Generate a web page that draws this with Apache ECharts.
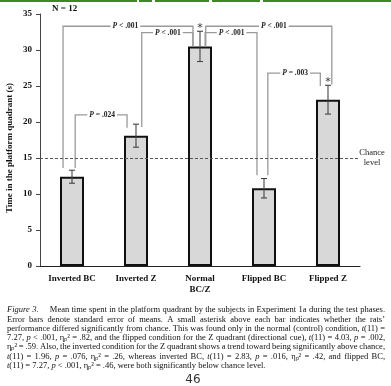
<!DOCTYPE html>
<html><head><meta charset="utf-8">
<script src="https://cdn.jsdelivr.net/npm/echarts@6/dist/echarts.min.js"></script>
<style>html,body{margin:0;padding:0;background:#fff}#c{width:391px;height:386px}</style>
</head><body><div id="c"></div>
<script>
// ---------- data ----------
const categories = ['Inverted BC', 'Inverted Z', 'Normal\nBC/Z', 'Flipped BC', 'Flipped Z'];
const means = [12.4, 18.1, 30.5, 10.8, 23.1];
const sems = [0.9, 1.6, 2.1, 1.35, 2.0];
const significant = [false, false, true, false, true];
const chanceLevel = 15;
const yMin = 0, yMax = 35, yStep = 5;
const sampleLabel = 'N = 12';
const yTitle = 'Time in the platform quadrant (s)';
const chanceLabel = 'Chance\nlevel';

// comparison brackets (category indices and y values)
const bracketLabels = ['< .001', '< .001', '= .024', '< .001', '< .001', '= .003'];
const bracketFrom = [0, 1, 0, 2, 2, 3];
const bracketTo = [2, 2, 1, 4, 3, 4];
const bracketTop = [33.3, 32.4, 21.0, 33.3, 32.4, 26.8];
const bracketFromEnd = [13.6, 19.3, 13.6, 30.5, 30.5, 12.6];
const bracketToEnd = [30.5, 30.5, 19.2, 25.2, 12.6, 25.0];

const captionLines = [
  '_Figure 3._~Mean time spent in the platform quadrant by the subjects in Experiment 1a during the test phases.',
  'Error bars denote standard error of means. A small asterisk above each bar indicates whether the rats\u2019',
  'performance differed significantly from chance. This was found only in the normal (control) condition, _t_(11) =',
  '7.27, _p_ < .001, \u03B7\u209A\u00B2 = .82, and the flipped condition for the Z quadrant (directional cue), _t_(11) = 4.03, _p_ = .002,',
  '\u03B7\u209A\u00B2 = .59. Also, the inverted condition for the Z quadrant shows a trend toward being significantly above chance,',
  '_t_(11) = 1.96, _p_ = .076, \u03B7\u209A\u00B2 = .26, whereas inverted BC, _t_(11) = 2.83, _p_ = .016, \u03B7\u209A\u00B2 = .42, and flipped BC,',
  '_t_(11) = 7.27, _p_ < .001, \u03B7\u209A\u00B2 = .46, were both significantly below chance level.'
];
const pageNumber = '46';

// ---------- layout / style ----------
const SERIF = '"Liberation Serif", "Times New Roman", serif';
const fromOffset = [-0.14, 0.09, 0.05, 0.09, 0.08, 0.06];
const toOffset = [-0.11, -0.11, -0.14, 0.06, -0.11, -0.12];
const labelPos = [0.48, 0.51, 0.52, 0.54, 0.51, 0.52];

const chart = echarts.init(document.getElementById('c'), null, {renderer: 'canvas'});

// caption layout (justified, word by word)
const mctx = document.createElement('canvas').getContext('2d');
const CAP_SIZE = 8.5;
function capFont(it) { return (it ? 'italic ' : '') + CAP_SIZE + 'px ' + SERIF; }
function measure(t, it) { mctx.font = capFont(it); return mctx.measureText(t).width; }
function parseLine(s) {
  const words = []; let cur = []; let seg = ''; let it = false;
  const flush = () => { if (seg) { cur.push({t: seg, i: it}); seg = ''; } };
  const endWord = (ex) => { flush(); if (cur.length) { words.push({segs: cur, extra: ex}); cur = []; } };
  for (const ch of s) {
    if (ch === '_') { flush(); it = !it; }
    else if (ch === ' ') endWord(0);
    else if (ch === '~') endWord(9);
    else seg += ch;
  }
  endWord(0);
  return words;
}
const capLeft = 7, capRight = 385, capTop = 310, capStep = 9.3;
const captionEls = [];
captionLines.forEach((line, li) => {
  const words = parseLine(line);
  words.forEach(w => { w.w = w.segs.reduce((a, s) => a + measure(s.t, s.i), 0); });
  const total = words.reduce((a, w) => a + w.w + w.extra, 0);
  const justify = li < captionLines.length - 1;
  let gap = justify ? (capRight - capLeft - total) / (words.length - 1) : measure(' ', false);
  if (gap < 1) gap = 1;
  let x = capLeft;
  const y = capTop + li * capStep;
  words.forEach(w => {
    let sx = x;
    w.segs.forEach(s => {
      captionEls.push({type: 'text', x: sx, y: y, silent: true,
        style: {text: s.t, font: capFont(s.i), fill: '#111', align: 'left', verticalAlign: 'middle'}});
      sx += measure(s.t, s.i);
    });
    x += w.w + w.extra + gap;
  });
});

const greenSegs = [[0, 137], [139, 152], [155, 209], [212, 260], [263, 391]];

const option = {
  animation: false,
  backgroundColor: '#fff',
  grid: {left: 40, right: 31, top: 14, bottom: 120, containLabel: false},
  xAxis: {
    type: 'category', data: categories,
    axisLine: {lineStyle: {color: '#222', width: 1.2}},
    axisTick: {show: false},
    axisLabel: {color: '#111', fontFamily: SERIF, fontWeight: 'bold', fontSize: 9, margin: 7, lineHeight: 11, interval: 0}
  },
  yAxis: {
    type: 'value', min: yMin, max: yMax, interval: yStep,
    splitLine: {show: false},
    axisLine: {show: true, lineStyle: {color: '#444', width: 1}},
    axisTick: {show: true, length: 4, lineStyle: {color: '#444'}},
    axisLabel: {color: '#111', fontFamily: SERIF, fontWeight: 'bold', fontSize: 9, margin: 8}
  },
  graphic: [
    ...greenSegs.map(s => ({type: 'rect', shape: {x: s[0], y: 0, width: s[1] - s[0], height: 2}, style: {fill: '#3b8a22'}, silent: true})),
    {type: 'text', x: 52, y: 9, style: {text: sampleLabel, font: 'bold 9px ' + SERIF, fill: '#111', align: 'left', verticalAlign: 'middle'}},
    {type: 'text', x: 10, y: 148, rotation: Math.PI / 2,
      style: {text: yTitle, font: 'bold 9px ' + SERIF, fill: '#111', align: 'center', verticalAlign: 'middle'}},
    ...captionEls,
    {type: 'text', x: 193, y: 374, style: {text: pageNumber, font: '12px "DejaVu Sans", sans-serif', fill: '#333', align: 'center', verticalAlign: 'top'}}
  ],
  series: [
    {
      type: 'bar', data: means, barWidth: '37.5%',
      itemStyle: {color: '#d8d8d8', borderColor: '#111', borderWidth: 2},
      markLine: {
        symbol: 'none', silent: true,
        lineStyle: {color: '#555', type: [3, 2], width: 1},
        label: {show: true, position: 'end', formatter: chanceLabel, distance: 12, align: 'center',
          color: '#222', fontFamily: SERIF, fontSize: 8.5, lineHeight: 10},
        data: [{yAxis: chanceLevel}]
      },
      z: 2
    },
    {
      type: 'custom', z: 5,
      data: means.map((m, i) => [i, m, sems[i]]),
      renderItem: (params, api) => {
        const i = api.value(0), m = api.value(1), s = api.value(2);
        const top = api.coord([i, m + s]), bot = api.coord([i, m - s]);
        const cw = 3;
        const st = {stroke: '#444', lineWidth: 1.1};
        const ch = [
          {type: 'line', shape: {x1: top[0], y1: top[1], x2: bot[0], y2: bot[1]}, style: st},
          {type: 'line', shape: {x1: top[0] - cw, y1: top[1], x2: top[0] + cw, y2: top[1]}, style: st},
          {type: 'line', shape: {x1: bot[0] - cw, y1: bot[1], x2: bot[0] + cw, y2: bot[1]}, style: st}
        ];
        if (significant[params.dataIndex]) {
          ch.push({type: 'text', x: top[0], y: top[1] + 2,
            style: {text: '*', font: '11px "DejaVu Sans", sans-serif', fill: '#333', align: 'center', verticalAlign: 'bottom'}});
        }
        return {type: 'group', children: ch};
      }
    },
    {
      type: 'custom', z: 4,
      data: bracketFrom.map((f, i) => [f, bracketTop[i]]),
      renderItem: (params, api) => {
        const k = params.dataIndex;
        const band = api.size([1, 0])[0];
        const xa = api.coord([bracketFrom[k], bracketTop[k]])[0] + fromOffset[k] * band;
        const xb = api.coord([bracketTo[k], bracketTop[k]])[0] + toOffset[k] * band;
        const yt = api.coord([0, bracketTop[k]])[1];
        const ya = api.coord([0, bracketFromEnd[k]])[1];
        const yb = api.coord([0, bracketToEnd[k]])[1];
        const lx = xa + (xb - xa) * labelPos[k];
        return {type: 'group', children: [
          {type: 'polyline', shape: {points: [[xa, ya], [xa, yt], [xb, yt], [xb, yb]]},
            style: {stroke: '#9a9a9a', lineWidth: 1.3, fill: null}},
          {type: 'text', x: lx, y: yt, z2: 10,
            style: {text: '{i|P} ' + bracketLabels[k], font: 'bold 7.5px ' + SERIF, fill: '#222',
              align: 'center', verticalAlign: 'middle', backgroundColor: '#fff', padding: [0, 2],
              rich: {i: {font: 'italic bold 7.5px ' + SERIF, fontStyle: 'italic', fontWeight: 'bold', fontSize: 7.5, fontFamily: SERIF, fill: '#222'}}}}
        ]};
      }
    }
  ]
};
chart.setOption(option);
</script>
</body></html>
